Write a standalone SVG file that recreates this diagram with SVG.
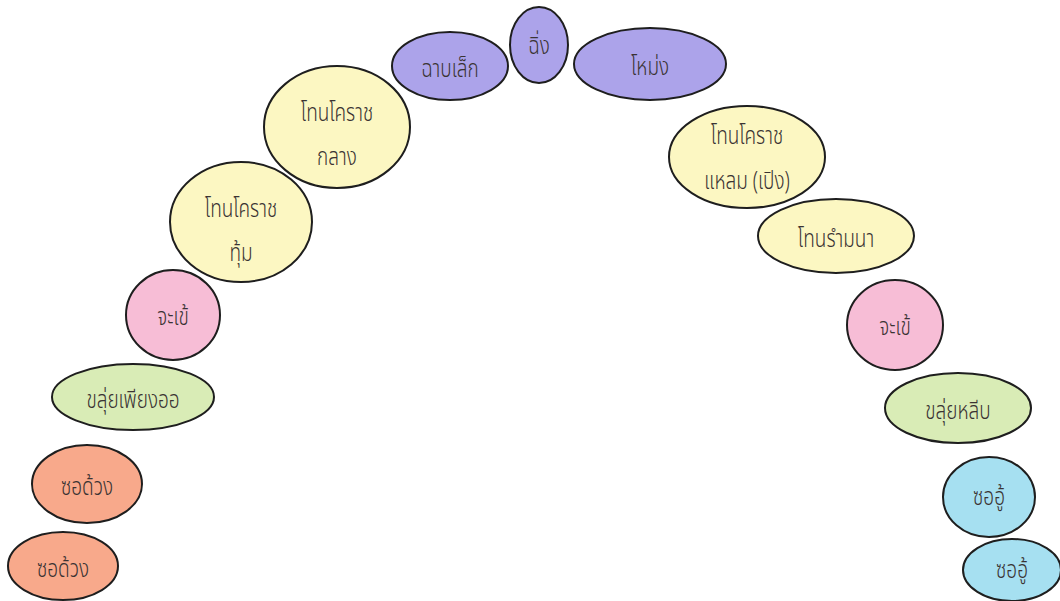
<svg xmlns="http://www.w3.org/2000/svg" width="1060" height="601" viewBox="0 0 1060 601">
  <style>
    .n ellipse { stroke: #1e1e1e; stroke-width: 2; }
    .purple { fill: #aca3ea; }
    .yellow { fill: #fcf7c2; }
    .pink { fill: #f7bdd6; }
    .green { fill: #d9ecb6; }
    .salmon { fill: #f8a98b; }
    .cyan { fill: #a6e0f1; }
    text { font-family: "Noto Sans Thai", "Noto Sans", "DejaVu Sans", sans-serif; font-size: 25px; font-weight: 300; fill: #3a3333; text-anchor: middle;
           transform-box: fill-box; transform-origin: center; transform: scaleX(0.76); }
  </style>
  <rect width="1060" height="601" fill="#ffffff"/>
  <g id="connectors"></g>

  <g id="n-chap-lek" class="n"><ellipse class="purple" cx="450" cy="66" rx="58" ry="34"/><text x="450" y="77">ฉาบเล็ก</text></g>
  <g id="n-ching" class="n"><ellipse class="purple" cx="539" cy="45" rx="29" ry="38"/><text x="539" y="54">ฉิ่ง</text></g>
  <g id="n-mong" class="n"><ellipse class="purple" cx="650" cy="64" rx="76" ry="36"/><text x="650" y="75">โหม่ง</text></g>

  <g id="n-thon-klang" class="n"><ellipse class="yellow" cx="337" cy="127" rx="73" ry="61"/><text x="337" y="121">โทนโคราช</text><text x="337" y="165">กลาง</text></g>
  <g id="n-thon-thum" class="n"><ellipse class="yellow" cx="241" cy="222" rx="71" ry="60"/><text x="241" y="217">โทนโคราช</text><text x="241" y="261">ทุ้ม</text></g>
  <g id="n-thon-laem" class="n"><ellipse class="yellow" cx="747" cy="157" rx="78" ry="51"/><text x="747" y="144">โทนโคราช</text><text x="747" y="189">แหลม (เปิง)</text></g>
  <g id="n-thon-ram" class="n"><ellipse class="yellow" cx="836" cy="236" rx="78" ry="37"/><text x="836" y="247">โทนรำมนา</text></g>

  <g id="n-jakhe-l" class="n"><ellipse class="pink" cx="173" cy="315" rx="47" ry="45"/><text x="173" y="325">จะเข้</text></g>
  <g id="n-jakhe-r" class="n"><ellipse class="pink" cx="895" cy="325" rx="48" ry="45"/><text x="895" y="335">จะเข้</text></g>

  <g id="n-khlui-phiang-o" class="n"><ellipse class="green" cx="133" cy="397" rx="81" ry="33"/><text x="133" y="408">ขลุ่ยเพียงออ</text></g>
  <g id="n-khlui-lip" class="n"><ellipse class="green" cx="958" cy="408" rx="73" ry="35"/><text x="958" y="419">ขลุ่ยหลีบ</text></g>

  <g id="n-so-duang-1" class="n"><ellipse class="salmon" cx="87" cy="484" rx="55" ry="39"/><text x="87" y="495">ซอด้วง</text></g>
  <g id="n-so-duang-2" class="n"><ellipse class="salmon" cx="63" cy="566" rx="55" ry="34"/><text x="63" y="577">ซอด้วง</text></g>

  <g id="n-so-u-1" class="n"><ellipse class="cyan" cx="989" cy="497" rx="46" ry="40"/><text x="989" y="505">ซออู้</text></g>
  <g id="n-so-u-2" class="n"><ellipse class="cyan" cx="1012" cy="570" rx="49" ry="31"/><text x="1012" y="578">ซออู้</text></g>
</svg>
